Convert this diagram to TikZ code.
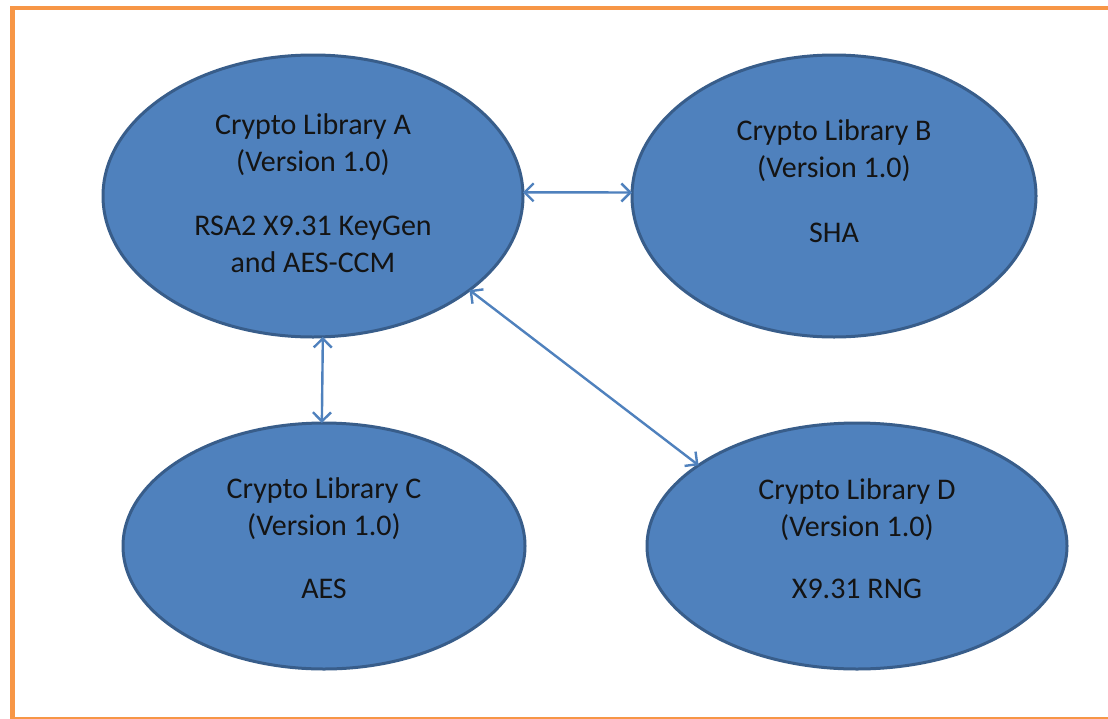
\documentclass[tikz,border=0pt]{standalone}
\usepackage{fontspec}
\setmainfont{Carlito}
\usetikzlibrary{shapes.geometric,arrows.meta}
\definecolor{libfill}{HTML}{4F81BD}
\definecolor{libline}{HTML}{385D8A}
\definecolor{arrowcol}{HTML}{4F81BD}
\definecolor{frameorange}{HTML}{F79646}
\definecolor{txtcol}{HTML}{141414}
\tikzset{
  lib/.style={ellipse, fill=libfill, draw=libline, line width=3pt, inner sep=0pt, outer sep=0pt},
  libtext/.style={align=center, anchor=base, text=txtcol, inner sep=0pt,
    font=\fontsize{30pt}{37pt}\selectfont},
  link/.style={draw=arrowcol, line width=2.4pt,
    {Straight Barb[length=9pt,width=18pt,line width=2.4pt]}-{Straight Barb[length=9pt,width=18pt,line width=2.4pt]}}
}
\begin{document}
\begin{tikzpicture}[x=1pt,y=-1pt]
\useasboundingbox (0,0) rectangle (1108,718);
\clip (0,0) rectangle (1108,718);
\fill[white] (0,0) rectangle (1108,718);
\draw[frameorange, line width=4.5pt] (12.5,8) rectangle (1130,719.5);

\node[lib, minimum width=420pt, minimum height=282pt] (A) at (313,196) {};
\node[lib, minimum width=404pt, minimum height=282pt] (B) at (834,196) {};
\node[lib, minimum width=402pt, minimum height=246pt] (C) at (324,546) {};
\node[lib, minimum width=420pt, minimum height=246pt] (D) at (857,546) {};

% base anchor = baseline of the last line
\node[libtext] (tA) at (313,272) {Crypto Library A\\(Version 1.0)\\[27pt]RSA2 X9.31 KeyGen\\and AES-CCM};
\node[libtext] (tB) at (834,242) {Crypto Library B\\(Version 1.0)\\[28pt]SHA};
\node[libtext] (tC) at (324,598) {Crypto Library C\\(Version 1.0)\\[26pt]AES};
\node[libtext] (tD) at (857,598) {Crypto Library D\\(Version 1.0)\\[25pt]X9.31 RNG};

\draw[link] (A.1) -- (B.179);
\draw[link] (A.-86) -- (C.91);
\draw[link] (A.-31) -- (D.153);
\end{tikzpicture}
\end{document}
